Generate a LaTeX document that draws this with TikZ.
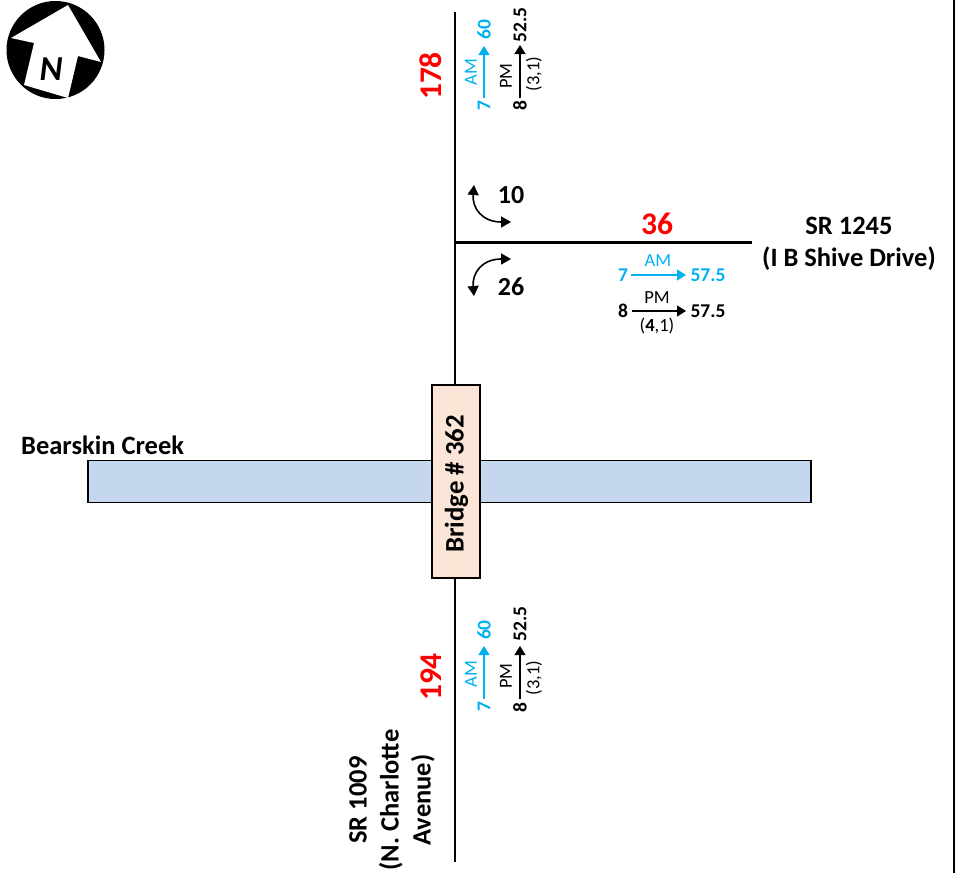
\documentclass[tikz,border=0pt]{standalone}
\usepackage{fontspec}
\setmainfont{Carlito}
\usetikzlibrary{arrows.meta}
\definecolor{amblue}{RGB}{0,176,240}
\definecolor{bridgefill}{RGB}{251,229,214}
\definecolor{creekfill}{RGB}{197,215,238}
\tikzset{
  road/.style={line width=2.4pt,black},
  frameline/.style={line width=2pt,black},
  volarrow/.style={line width=1.4pt,-{Triangle[length=9pt,width=11pt]}},
  turnarrow/.style={line width=1.6pt,{Triangle[length=10pt,width=11pt]}-{Triangle[length=10pt,width=11pt]}},
  total/.style={font=\bfseries\fontsize{31.5}{31.5}\selectfont,text=red,inner sep=0pt},
  lbl/.style={font=\bfseries\fontsize{26.5}{32}\selectfont,inner sep=0pt,align=center},
  turnlbl/.style={font=\bfseries\fontsize{26}{26}\selectfont,inner sep=0pt},
  vol/.style={font=\bfseries\fontsize{19.5}{19.5}\selectfont,inner sep=0pt},
  small/.style={font=\fontsize{18.5}{18.5}\selectfont,inner sep=0pt},
}
\begin{document}
\begin{tikzpicture}[x=1pt,y=-1pt]
\useasboundingbox (0,0) rectangle (955,873);
% frame edge
\coordinate (ft) at (953.5,0); \coordinate (fb) at (953.5,873);
\draw[frameline] (ft) -- (fb);
% north arrow
\fill[black] (55.5,50) circle (49);
\fill[white] (68,5) -- (101,62) -- (78,56) -- (68,98) -- (24,85) -- (34,43) -- (11,38) -- cycle;
\node[inner sep=0pt,font=\bfseries\itshape\fontsize{35}{35}\selectfont] (north) at (51,69) {N};
% roads
\coordinate (rt) at (455,12); \coordinate (rb) at (455,862);
\coordinate (ix) at (453.8,242.5); \coordinate (re) at (752,242.5);
\draw[road] (rt) -- (rb);
\draw[road] (ix) -- (re);
% creek + bridge
\node[draw=black,line width=1.1pt,fill=creekfill,minimum width=723pt,minimum height=42pt,inner sep=0pt] (creek) at (449.5,481.5) {};
\node[draw=black,line width=1.1pt,fill=bridgefill,minimum width=48pt,minimum height=193pt,inner sep=0pt] (bridge) at (456,481.5) {};
\node[rotate=90,font=\bfseries\fontsize{26.8}{26.8}\selectfont,inner sep=0pt] (bridgelbl) at (456.5,484) {Bridge \# 362};
\node[lbl,anchor=west] (creeklbl) at (21,445) {Bearskin Creek};
% road labels
\node[lbl] (sr1245) at (849,243.5) {SR 1245\\(I B Shive Drive)};
\node[lbl,rotate=90] (sr1009) at (392,800) {SR 1009\\(N. Charlotte\\Avenue)};
% totals
\node[total,rotate=90] (t178) at (431,76) {178};
\node[total,rotate=90] (t194) at (431,677) {194};
\node[total] (t36) at (657,224) {36};
% top volumes
\node[vol,rotate=90,text=amblue] (a1s) at (484,106) {7};
\node[vol,rotate=90,text=amblue] (a1e) at (484,30) {60};
\draw[volarrow,amblue] (484,98) -- (484,46);
\node[small,rotate=90,text=amblue] (a1l) at (471,72) {AM};
\node[vol,rotate=90] (p1s) at (520,106) {8};
\node[vol,rotate=90] (p1e) at (520,25) {52.5};
\draw[volarrow] (520,98) -- (520,45);
\node[small,rotate=90] (p1l) at (506,76) {PM};
\node[small,rotate=90] (p1n) at (534,74) {(3,1)};
% bottom volumes
\node[vol,rotate=90,text=amblue] (a2s) at (484,707) {7};
\node[vol,rotate=90,text=amblue] (a2e) at (484,630) {60};
\draw[volarrow,amblue] (484,699) -- (484,646);
\node[small,rotate=90,text=amblue] (a2l) at (471,674) {AM};
\node[vol,rotate=90] (p2s) at (520,708) {8};
\node[vol,rotate=90] (p2e) at (520,624) {52.5};
\draw[volarrow] (520,699) -- (520,646);
\node[small,rotate=90] (p2l) at (506,676) {PM};
\node[small,rotate=90] (p2n) at (534,678) {(3,1)};
% east volumes
\node[vol,text=amblue] (a3s) at (623,275) {7};
\node[vol,text=amblue] (a3e) at (708,275) {57.5};
\draw[volarrow,amblue] (631,275) -- (686,275);
\node[small,text=amblue] (a3l) at (658,261) {AM};
\node[vol] (p3s) at (623,311) {8};
\node[vol] (p3e) at (708,311) {57.5};
\draw[volarrow] (632,311) -- (686,311);
\node[small] (p3l) at (657,298) {PM};
\node[small] (p3n) at (657,326) {(\textbf{4},1)};
% turning
\coordinate (t1a) at (474,185); \coordinate (t1b) at (511,222);
\draw[turnarrow] (t1a) .. controls (472,208) and (482,222) .. (t1b);
\coordinate (t2a) at (474,296); \coordinate (t2b) at (511,259);
\draw[turnarrow] (t2a) .. controls (472,273) and (482,259) .. (t2b);
\node[turnlbl] (n10) at (511,195) {10};
\node[turnlbl] (n26) at (511,287) {26};
\end{tikzpicture}
\end{document}
